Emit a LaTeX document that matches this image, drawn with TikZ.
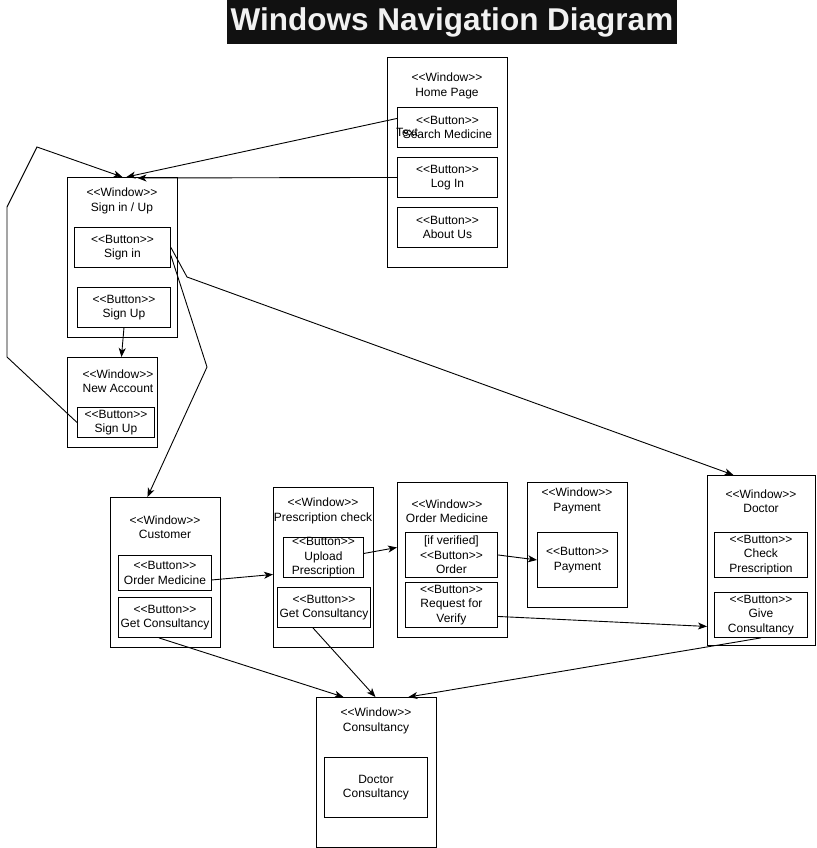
\documentclass[tikz,border=0pt]{standalone}
\usepackage{fontspec}
\setmainfont{Liberation Sans}
\usetikzlibrary{arrows.meta}
\newcommand\stp[1]{<\kern0pt<#1>\kern0pt>}
\definecolor{titlebg}{HTML}{111111}
\definecolor{titlefg}{HTML}{F2F2F2}
\tikzset{
  win/.style={draw, line width=0.9pt, anchor=north west, inner sep=0pt},
  btn/.style={draw, line width=0.9pt, anchor=north west, align=center, inner sep=0pt},
  wlbl/.style={align=center, inner sep=0pt},
  arr/.style={line width=0.9pt, -{Stealth[length=9pt,width=7pt,inset=2.5pt]}},
}
\begin{document}
\begin{tikzpicture}[x=1pt, y=-1pt, font=\fontsize{12}{14.4}\selectfont]
  \useasboundingbox (0,0) rectangle (816,848);
  % title
  \node[fill=titlebg, text=titlefg, minimum width=450pt, minimum height=44pt, inner sep=0pt,
        font=\fontsize{31.5}{34}\selectfont\bfseries] (title) at (452,22) {Windows Navigation Diagram};
  % windows
  \node[win, minimum width=120pt, minimum height=210pt] (home) at (387,57) {};
  \node[win, minimum width=110pt, minimum height=160pt] (signwin) at (67,177) {};
  \node[win, minimum width=90pt, minimum height=90pt] (na) at (67,357) {};
  \node[win, minimum width=110pt, minimum height=150pt] (cust) at (110,497) {};
  \node[win, minimum width=100pt, minimum height=160pt] (presc) at (273,487) {};
  \node[win, minimum width=110pt, minimum height=155pt] (ordw) at (397,482) {};
  \node[win, minimum width=100pt, minimum height=125pt] (payw) at (527,482) {};
  \node[win, minimum width=108pt, minimum height=170pt] (doc) at (707,475) {};
  \node[win, minimum width=120pt, minimum height=150pt] (cons) at (316,697) {};
  % window labels
  \node[wlbl] (home-l) at (447,86) {\stp{Window}\\Home Page};
  \node[wlbl] (signwin-l) at (122,201) {\stp{Window}\\Sign in / Up};
  \node[wlbl] (na-l) at (118,381) {\stp{Window}\\New Account};
  \node[wlbl] (cust-l) at (165,527) {\stp{Window}\\Customer};
  \node[wlbl] (presc-l) at (323,511) {\stp{Window}\\Prescription check};
  \node[wlbl] (ordw-l) at (447,511) {\stp{Window}\\Order Medicine};
  \node[wlbl] (payw-l) at (577,501) {\stp{Window}\\Payment};
  \node[wlbl] (doc-l) at (761,501) {\stp{Window}\\Doctor};
  \node[wlbl] (cons-l) at (376,721) {\stp{Window}\\Consultancy};
  % buttons
  \node[btn, minimum width=100pt, minimum height=40pt] (srch) at (397,107) {\stp{Button}\\Search Medicine};
  \node[btn, minimum width=100pt, minimum height=40pt] (login) at (397,157) {\stp{Button}\\Log In};
  \node[btn, minimum width=100pt, minimum height=40pt] (about) at (397,207) {\stp{Button}\\About Us};
  \node[btn, minimum width=96pt, minimum height=40pt] (signin) at (74,227) {\stp{Button}\\Sign in};
  \node[btn, minimum width=93pt, minimum height=40pt] (signup) at (77,287) {\stp{Button}\\Sign Up};
  \node[btn, minimum width=77pt, minimum height=30pt] (nasu) at (77,407) {\stp{Button}\\Sign Up};
  \node[btn, minimum width=93pt, minimum height=35pt] (ordm) at (118,555) {\stp{Button}\\Order Medicine};
  \node[btn, minimum width=93pt, minimum height=40pt] (custgc) at (118,597) {\stp{Button}\\Get Consultancy};
  \node[btn, minimum width=80pt, minimum height=40pt] (upl) at (283,537) {\stp{Button}\\Upload\\Prescription};
  \node[btn, minimum width=93pt, minimum height=40pt] (prgc) at (277,587) {\stp{Button}\\Get Consultancy};
  \node[btn, minimum width=92pt, minimum height=45pt] (ord) at (405,532) {[if verified]\\\stp{Button}\\Order};
  \node[btn, minimum width=92pt, minimum height=45pt] (req) at (405,582) {\stp{Button}\\Request for\\Verify};
  \node[btn, minimum width=80pt, minimum height=55pt] (pay) at (537,532) {\stp{Button}\\Payment};
  \node[btn, minimum width=93pt, minimum height=45pt] (chk) at (714,532) {\stp{Button}\\Check\\Prescription};
  \node[btn, minimum width=93pt, minimum height=45pt] (give) at (714,592) {\stp{Button}\\Give\\Consultancy};
  \node[btn, minimum width=103pt, minimum height=60pt] (dcons) at (324,757) {Doctor\\Consultancy};
  \node[inner sep=0pt] (stray) at (407,132) {Text};
  % navigation
  \draw[arr] ([yshift=9pt]srch.west) -- ([xshift=4pt]signwin.north);
  \draw[arr] (login.west) -- ([xshift=15pt,yshift=-1pt]signwin.north);
  \draw[arr] (signup.south) -- ([xshift=9pt]na.north);
  \draw[arr] (nasu.west) -- (7,357) -- (7,207) -- (37,147) -- (signwin.north);
  \draw[arr] ([yshift=-8pt]signin.east) -- (207,367) -- ([xshift=-18pt]cust.north);
  \draw[arr] (signin.east) -- (187,277) -- ([xshift=-28pt]doc.north);
  \draw[arr] ([yshift=-7pt]ordm.east) -- ([yshift=-7pt]presc.west);
  \draw[arr] ([xshift=-6pt]custgc.south) -- ([xshift=-33pt]cons.north);
  \draw[arr] ([xshift=-11pt]prgc.south) -- ([xshift=-1pt]cons.north);
  \draw[arr] ([yshift=4pt]upl.east) -- ([yshift=12.5pt]ordw.west);
  \draw[arr] (ord.east) -- (pay.west);
  \draw[arr] ([yshift=-11.5pt]req.east) -- ([yshift=-66pt]doc.west);
  \draw[arr] (give.south) -- ([xshift=32pt]cons.north);
\end{tikzpicture}
\end{document}
